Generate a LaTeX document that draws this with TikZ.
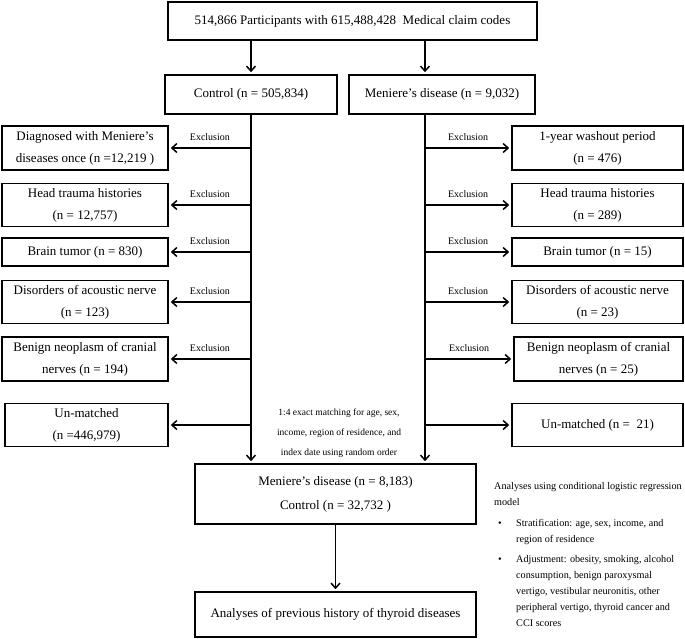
\documentclass[tikz,border=0pt]{standalone}
\usepackage{fontspec}
\setmainfont{Liberation Serif}
\usetikzlibrary{arrows.meta}
\begin{document}
\begin{tikzpicture}[x=1pt,y=-1pt,
  box/.style={draw, line width=1.6pt, inner sep=0pt, align=center,
    font=\fontsize{13}{22}\selectfont},
  arr/.style={line width=1.7pt, shorten >=2pt, -{Straight Barb[length=5pt,width=9pt,line width=1.5pt]}},
  lbl/.style={font=\fontsize{10}{12}\selectfont, inner sep=0pt},
  note/.style={font=\fontsize{10.2}{16}\selectfont, inner sep=0pt, align=left},
  ]
\useasboundingbox (0,0) rectangle (685,639);

% top
\node[box, minimum width=369pt, minimum height=38pt] (top) at (352.5,21)
  {514,866 Participants with 615,488,428~ Medical claim codes};
\node[box, minimum width=172pt, minimum height=39pt] (ctrl) at (251,94.5)
  {Control (n = 505,834)};
\node[box, minimum width=186pt, minimum height=39pt] (men) at (442,94.5)
  {Meniere’s disease (n = 9,032)};
\path (men.south) ++(-17,0) coordinate (rs);

% left boxes
\node[box, minimum width=166pt, minimum height=44pt] (L1) at (85,148)
  {Diagnosed with Meniere’s\\diseases once (n =12,219 )};
\node[box, minimum width=166pt, minimum height=43pt] (L2) at (85,205)
  {Head trauma histories\\(n = 12,757)};
\node[box, minimum width=166pt, minimum height=28pt] (L3) at (85,252)
  {Brain tumor (n = 830)};
\node[box, minimum width=166pt, minimum height=43pt] (L4) at (85,302)
  {Disorders of acoustic nerve\\(n = 123)};
\node[box, minimum width=166pt, minimum height=44pt] (L5) at (85,359)
  {Benign neoplasm of cranial\\nerves (n = 194)};
\node[box, minimum width=163pt, minimum height=43pt] (L6) at (86.5,425)
  {Un-matched\\(n =446,979)};

% right boxes
\node[box, minimum width=171pt, minimum height=44pt] (R1) at (597.5,148)
  {1-year washout period\\(n = 476)};
\node[box, minimum width=171pt, minimum height=43pt] (R2) at (597.5,205)
  {Head trauma histories\\(n = 289)};
\node[box, minimum width=171pt, minimum height=28pt] (R3) at (597.5,252)
  {Brain tumor (n = 15)};
\node[box, minimum width=171pt, minimum height=43pt] (R4) at (597.5,302)
  {Disorders of acoustic nerve\\(n = 23)};
\node[box, minimum width=169pt, minimum height=44pt] (R5) at (598.5,359)
  {Benign neoplasm of cranial\\nerves (n = 25)};
\node[box, minimum width=171pt, minimum height=43pt] (R6) at (597.5,425)
  {Un-matched (n =~ 21)};

% bottom
\node[box, minimum width=281pt, minimum height=60pt,
  font=\fontsize{13}{24}\selectfont] (res) at (335.5,494)
  {Meniere’s disease (n = 8,183)\\Control (n = 32,732 )};
\node[box, minimum width=281pt, minimum height=45pt] (ana) at (335.5,614.5)
  {Analyses of previous history of thyroid diseases};

% connectors top
\draw[arr] (top.south -| ctrl.north) -- (ctrl.north);
\draw[arr] (top.south -| rs) -- (rs |- men.north);

% vertical trunks
\draw[arr] (ctrl.south) -- (ctrl.south |- res.north);
\draw[arr] (rs) -- (rs |- res.north);
\draw[arr] (res.south) -- (ana.north);

% exclusion arrows left
\foreach \n in {L1,L2,L3,L4,L5} {
  \draw[arr] (ctrl.south |- \n.east) -- node[lbl, above=7pt] {Exclusion} (\n.east);
}
\draw[arr] (ctrl.south |- L6.east) -- (L6.east);
% exclusion arrows right
\foreach \n in {R1,R2,R3,R4,R5} {
  \draw[arr] (rs |- \n.west) -- node[lbl, above=7pt] {Exclusion} (\n.west);
}
\draw[arr] (rs |- R6.west) -- (R6.west);

% matching text
\node[font=\fontsize{9.5}{20}\selectfont, inner sep=0pt, align=center] (match) at (339,433)
  {1:4 exact matching for age, sex,\\income, region of residence, and\\index date using random order};

% analysis note (base anchor = last line's baseline)
\node[note, anchor=base west] (n1) at (494,505)
  {Analyses using conditional logistic regression\\model};
\node[note, anchor=base west] (b1) at (498,526) {•};
\node[note, anchor=base west] (t1) at (516,542)
  {Stratification: age, sex, income, and\\region of residence};
\node[note, anchor=base west] (b2) at (498,562) {•};
\node[note, anchor=base west] (t2) at (516,626)
  {Adjustment: obesity, smoking, alcohol\\consumption, benign paroxysmal\\vertigo, vestibular neuronitis, other\\peripheral vertigo, thyroid cancer and\\CCI scores};
\end{tikzpicture}
\end{document}
